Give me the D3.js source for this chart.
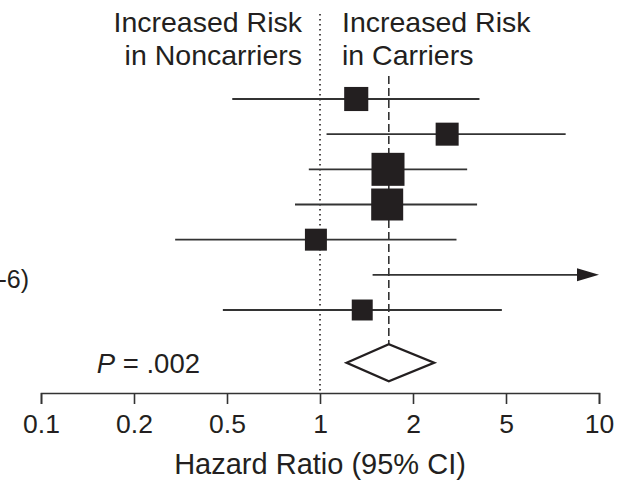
<!DOCTYPE html>
<html lang="en">

<head>
  <meta charset="UTF-8">
  <title>Hazard Ratio Forest Plot</title>
  <style>
    body {
      margin: 0;
      background: #fff;
      font-family: "Liberation Sans", Arial, sans-serif;
    }

    text {
      fill: #231f20;
    }
  </style>
  <script src="https://d3js.org/d3.v7.min.js"></script>
</head>

<body>
  <svg id="chart"></svg>

  <script>
    // tick values of the hazard ratio axis (evenly spaced on the page)
    const tickValues = [0.1, 0.2, 0.5, 1, 2, 5, 10];

    // one entry per study row, top to bottom
    const hr = [1.31, 2.80, 1.66, 1.65, 0.97, null, 1.37];
    const ciLow = [0.52, 1.05, 0.92, 0.83, 0.30, 1.48, 0.48];
    const ciHigh = [3.85, 7.8, 3.41, 3.76, 3.07, 14, 4.8];
    const weights = [16, 14.6, 30, 28.2, 13.3, 0, 12.1];

    // pooled estimate
    const pooled = { hr: 1.67, low: 1.22, high: 2.46 };

    // text fragment of the row labels that is still in view
    const rowLabels = ["", "", "", "", "", "-6)", ""];

    const width = 621;
    const height = 481;

    const svg = d3.select("#chart")
      .attr("width", width)
      .attr("height", height);

    const xLeft = 41, xRight = 599;
    const xScale = d3.scaleLog()
      .domain(tickValues)
      .range(tickValues.map((d, i) => xLeft + i * (xRight - xLeft) / (tickValues.length - 1)))
      .clamp(true);

    const yScale = d3.scaleLinear()
      .domain([0, hr.length - 1])
      .range([99, 310]);

    const sizeScale = d3.scaleSqrt()
      .domain([0, 30])
      .range([0, 33]);

    const axisY = 393;
    const ink = "#231f20";

    // reference line at HR = 1 (dotted)
    svg.append("line")
      .attr("x1", xScale(1)).attr("x2", xScale(1))
      .attr("y1", 14).attr("y2", axisY)
      .attr("stroke", ink)
      .attr("stroke-width", 1.6)
      .attr("stroke-dasharray", "1.6,3.4");

    // pooled estimate line (dashed)
    svg.append("line")
      .attr("x1", xScale(pooled.hr)).attr("x2", xScale(pooled.hr))
      .attr("y1", 76).attr("y2", yScale(7.5) - 18)
      .attr("stroke", "#333")
      .attr("stroke-width", 1.6)
      .attr("stroke-dasharray", "8,4");

    // header texts
    const headLeft = svg.append("text")
      .attr("text-anchor", "end")
      .attr("font-size", 28.5);
    headLeft.append("tspan").attr("x", 302).attr("y", 32).text("Increased Risk");
    headLeft.append("tspan").attr("x", 302).attr("y", 65).text("in Noncarriers");

    const headRight = svg.append("text")
      .attr("text-anchor", "start")
      .attr("font-size", 28.5);
    headRight.append("tspan").attr("x", 342).attr("y", 32).text("Increased Risk");
    headRight.append("tspan").attr("x", 342).attr("y", 65).text("in Carriers");

    const rows = hr.map((d, i) => ({
      i, hr: d, low: ciLow[i], high: ciHigh[i], w: weights[i], label: rowLabels[i]
    }));

    // confidence intervals
    const arrowLen = 22;
    svg.selectAll(".ci")
      .data(rows)
      .enter()
      .append("line")
      .attr("class", "ci")
      .attr("x1", d => xScale(d.low))
      .attr("x2", d => d.high > 10 ? xScale(10) - arrowLen + 2 : xScale(d.high))
      .attr("y1", d => yScale(d.i))
      .attr("y2", d => yScale(d.i))
      .attr("stroke", "#333")
      .attr("stroke-width", 1.8);

    // arrows for intervals running off the axis
    svg.selectAll(".arrow")
      .data(rows.filter(d => d.high > 10))
      .enter()
      .append("path")
      .attr("class", "arrow")
      .attr("d", d => {
        const x = xScale(10), y = yScale(d.i);
        return `M${x - arrowLen},${y - 6.5}L${x},${y}L${x - arrowLen},${y + 6.5}Z`;
      })
      .attr("fill", ink);

    // point estimates
    svg.selectAll(".pt")
      .data(rows.filter(d => d.hr != null))
      .enter()
      .append("rect")
      .attr("class", "pt")
      .attr("x", d => xScale(d.hr) - sizeScale(d.w) / 2)
      .attr("y", d => yScale(d.i) - sizeScale(d.w) / 2)
      .attr("width", d => sizeScale(d.w))
      .attr("height", d => sizeScale(d.w))
      .attr("fill", ink);

    // left-side label fragments
    svg.selectAll(".row-label")
      .data(rows.filter(d => d.label))
      .enter()
      .append("text")
      .attr("class", "row-label")
      .attr("x", 29)
      .attr("y", d => yScale(d.i) + 13)
      .attr("text-anchor", "end")
      .attr("font-size", 25)
      .text(d => d.label);

    // pooled diamond
    const py = yScale(7.5);
    svg.append("path")
      .attr("d", `M${xScale(pooled.low)},${py}L${xScale(pooled.hr)},${py - 18.5}L${xScale(pooled.high)},${py}L${xScale(pooled.hr)},${py + 18.5}Z`)
      .attr("fill", "#fff")
      .attr("stroke", ink)
      .attr("stroke-width", 2.4)
      .attr("stroke-linejoin", "miter");

    const pText = svg.append("text")
      .attr("x", 200)
      .attr("y", py + 10)
      .attr("text-anchor", "end")
      .attr("font-size", 27.5);
    pText.append("tspan").attr("font-style", "italic").text("P");
    pText.append("tspan").text(" = .002");

    // x axis
    const xAxis = d3.axisBottom(xScale)
      .tickValues(tickValues)
      .tickFormat(d3.format("~g"))
      .tickSizeInner(11)
      .tickSizeOuter(11)
      .tickPadding(10);

    const gx = svg.append("g")
      .attr("transform", `translate(0, ${axisY})`)
      .call(xAxis);

    gx.select(".domain").attr("stroke", "#333").attr("stroke-width", 1.6);
    gx.selectAll(".tick line").attr("stroke", "#333").attr("stroke-width", 1.6);
    gx.selectAll(".tick text")
      .attr("font-size", 26.5)
      .attr("font-family", "\"Liberation Sans\", Arial, sans-serif")
      .attr("fill", ink);

    svg.append("text")
      .attr("x", xScale(1))
      .attr("y", 474)
      .attr("text-anchor", "middle")
      .attr("font-size", 29)
      .text("Hazard Ratio (95% CI)");
  </script>
</body>

</html>
